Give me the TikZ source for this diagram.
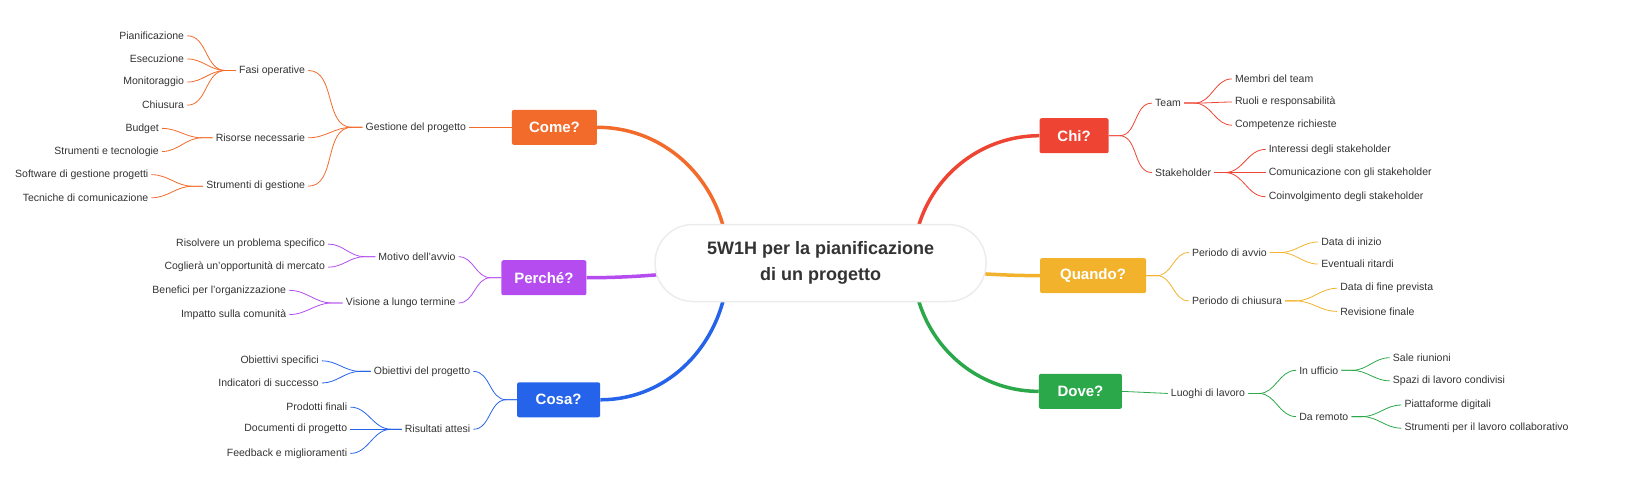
\documentclass[tikz,border=0pt]{standalone}
\usepackage{fontspec}
\setmainfont{Liberation Sans}
\usetikzlibrary{calc}
\usetikzlibrary{backgrounds}
\definecolor{cOrange}{HTML}{F26B2A}
\definecolor{cPurple}{HTML}{B44CF0}
\definecolor{cBlue}{HTML}{2563EB}
\definecolor{cRed}{HTML}{EE4433}
\definecolor{cYellow}{HTML}{F2B22C}
\definecolor{cGreen}{HTML}{2BA84A}
\definecolor{txt}{HTML}{333333}
\tikzset{
  root/.style={draw=gray!15, line width=1.5pt, fill=white, rounded corners=38pt,
    minimum width=331pt, minimum height=77pt, align=center, text=txt,
    font=\fontsize{18}{26}\selectfont\bfseries},
  topic/.style={fill=#1, text=white, rounded corners=2pt, minimum height=35pt,
    font=\fontsize{15}{17}\selectfont\bfseries},
  leaf/.style={text=txt, inner sep=3pt, font=\fontsize{10.5}{12}\selectfont},
  lleaf/.style={leaf, anchor=east},
  rleaf/.style={leaf, anchor=west},
  mainline/.style={draw=#1, line width=3.5pt},
  sub/.style={draw=#1, line width=0.8pt},
}
% left and right branch connectors
\newcommand{\lbr}[3]{\draw[sub=#3] (#1.west) -- ++(-10,0) to[out=180,in=0] (#2.east);}
\newcommand{\rbr}[3]{\draw[sub=#3] (#1.east) -- ++(10,0) to[out=0,in=180] (#2.west);}
\begin{document}
\begin{tikzpicture}[x=1.052pt,y=-1.052pt]
  \useasboundingbox (0,0) rectangle (1568.4,459.1);
  \node[root] (root) at (780,250) {5W1H per la pianificazione\\di un progetto};
  \node[topic=cOrange, minimum width=85pt] (come) at (527,121) {Come?};
  \node[topic=cPurple, minimum width=85pt] (perche) at (517,264) {Perché?};
  \node[topic=cBlue, minimum width=83pt] (cosa) at (531,380) {Cosa?};
  \node[topic=cRed, minimum width=69pt] (chi) at (1021,129) {Chi?};
  \node[topic=cYellow, minimum width=106pt] (quando) at (1039,262) {Quando?};
  \node[topic=cGreen, minimum width=83pt] (dove) at (1027,372) {Dove?};
  \begin{scope}[on background layer]
    \draw[mainline=cOrange] ($(root.center)+(-88,0)$) to[out=90,in=0] (come.east);
    \draw[mainline=cPurple] (root.center) to[out=180,in=0] (perche.east);
    \draw[mainline=cBlue] ($(root.center)+(-88,0)$) to[out=-90,in=0] (cosa.east);
    \draw[mainline=cRed] ($(root.center)+(88,0)$) to[out=90,in=180] (chi.west);
    \draw[mainline=cYellow] (root.center) to[out=0,in=180] (quando.west);
    \draw[mainline=cGreen] ($(root.center)+(88,0)$) to[out=-90,in=180] (dove.west);
  \end{scope}

  % Come?
  \node[lleaf] (gest) at (446,121) {Gestione del progetto};
  \node[lleaf] (fasi) at (293,67) {Fasi operative};
  \node[lleaf] (risorse) at (293,131) {Risorse necessarie};
  \node[lleaf] (strum) at (293,177) {Strumenti di gestione};
  \node[lleaf] (pian) at (178,34) {Pianificazione};
  \node[lleaf] (esec) at (178,56) {Esecuzione};
  \node[lleaf] (monit) at (178,78) {Monitoraggio};
  \node[lleaf] (chius) at (178,100) {Chiusura};
  \node[lleaf] (budget) at (154,122) {Budget};
  \node[lleaf] (tecno) at (154,144) {Strumenti e tecnologie};
  \node[lleaf] (softw) at (144,166) {Software di gestione progetti};
  \node[lleaf] (tecn) at (144,188) {Tecniche di comunicazione};
  \draw[sub=cOrange] (come.west) -- (gest.east);
  \foreach \c in {fasi,risorse,strum} {\lbr{gest}{\c}{cOrange}}
  \foreach \c in {pian,esec,monit,chius} {\lbr{fasi}{\c}{cOrange}}
  \foreach \c in {budget,tecno} {\lbr{risorse}{\c}{cOrange}}
  \foreach \c in {softw,tecn} {\lbr{strum}{\c}{cOrange}}

  % Perche?
  \node[lleaf] (motivo) at (436,244) {Motivo dell'avvio};
  \node[lleaf] (visione) at (436,288) {Visione a lungo termine};
  \node[lleaf] (risolv) at (312,232) {Risolvere un problema specifico};
  \node[lleaf] (coglie) at (312,254) {Coglierà un'opportunità di mercato};
  \node[lleaf] (benef) at (275,276) {Benefici per l'organizzazione};
  \node[lleaf] (impat) at (275,299) {Impatto sulla comunità};
  \foreach \c in {motivo,visione} {\lbr{perche}{\c}{cPurple}}
  \foreach \c in {risolv,coglie} {\lbr{motivo}{\c}{cPurple}}
  \foreach \c in {benef,impat} {\lbr{visione}{\c}{cPurple}}

  % Cosa?
  \node[lleaf] (obiet) at (450,353) {Obiettivi del progetto};
  \node[lleaf] (risult) at (450,408) {Risultati attesi};
  \node[lleaf] (obspec) at (306,343) {Obiettivi specifici};
  \node[lleaf] (indic) at (306,364) {Indicatori di successo};
  \node[lleaf] (prod) at (333,387) {Prodotti finali};
  \node[lleaf] (docum) at (333,408) {Documenti di progetto};
  \node[lleaf] (feedb) at (333,431) {Feedback e miglioramenti};
  \foreach \c in {obiet,risult} {\lbr{cosa}{\c}{cBlue}}
  \foreach \c in {obspec,indic} {\lbr{obiet}{\c}{cBlue}}
  \foreach \c in {prod,docum,feedb} {\lbr{risult}{\c}{cBlue}}

  % Chi?
  \node[rleaf] (team) at (1095,98) {Team};
  \node[rleaf] (stake) at (1095,164) {Stakeholder};
  \node[rleaf] (membri) at (1171,75) {Membri del team};
  \node[rleaf] (ruoli) at (1171,97) {Ruoli e responsabilità};
  \node[rleaf] (compet) at (1171,119) {Competenze richieste};
  \node[rleaf] (inter) at (1203,142) {Interessi degli stakeholder};
  \node[rleaf] (comun) at (1203,164) {Comunicazione con gli stakeholder};
  \node[rleaf] (coinv) at (1203,187) {Coinvolgimento degli stakeholder};
  \foreach \c in {team,stake} {\rbr{chi}{\c}{cRed}}
  \foreach \c in {membri,ruoli,compet} {\rbr{team}{\c}{cRed}}
  \foreach \c in {inter,comun,coinv} {\rbr{stake}{\c}{cRed}}

  % Quando?
  \node[rleaf] (pavvio) at (1130,240) {Periodo di avvio};
  \node[rleaf] (pchius) at (1130,286) {Periodo di chiusura};
  \node[rleaf] (dinizio) at (1253,230) {Data di inizio};
  \node[rleaf] (ritardi) at (1253,251) {Eventuali ritardi};
  \node[rleaf] (dfine) at (1271,274) {Data di fine prevista};
  \node[rleaf] (revis) at (1271,296) {Revisione finale};
  \foreach \c in {pavvio,pchius} {\rbr{quando}{\c}{cYellow}}
  \foreach \c in {dinizio,ritardi} {\rbr{pavvio}{\c}{cYellow}}
  \foreach \c in {dfine,revis} {\rbr{pchius}{\c}{cYellow}}

  % Dove?
  \node[rleaf] (luoghi) at (1110,374) {Luoghi di lavoro};
  \node[rleaf] (uffic) at (1232,352) {In ufficio};
  \node[rleaf] (remoto) at (1232,396) {Da remoto};
  \node[rleaf] (sale) at (1321,340) {Sale riunioni};
  \node[rleaf] (spazi) at (1321,362) {Spazi di lavoro condivisi};
  \node[rleaf] (piatt) at (1332,385) {Piattaforme digitali};
  \node[rleaf] (strlav) at (1332,407) {Strumenti per il lavoro collaborativo};
  \draw[sub=cGreen] (dove.east) -- (luoghi.west);
  \foreach \c in {uffic,remoto} {\rbr{luoghi}{\c}{cGreen}}
  \foreach \c in {sale,spazi} {\rbr{uffic}{\c}{cGreen}}
  \foreach \c in {piatt,strlav} {\rbr{remoto}{\c}{cGreen}}
\end{tikzpicture}
\end{document}
